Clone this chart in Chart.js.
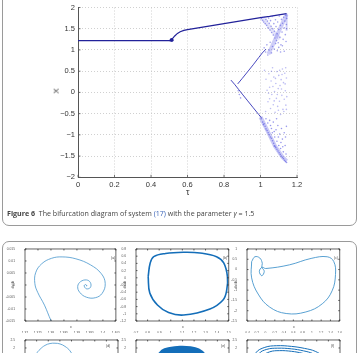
<!DOCTYPE html>
<html><head><meta charset="utf-8">
<script src="https://cdn.jsdelivr.net/npm/chart.js@4/dist/chart.umd.min.js"></script>
<style>
body{margin:0;width:360px;height:353px;overflow:hidden;background:#fff;position:relative;font-family:'Liberation Sans',sans-serif}
canvas{position:absolute}
.box{position:absolute;left:2px;width:355px;border:1px solid #9a9a9a;border-radius:7px;box-sizing:border-box}
.t{position:absolute;white-space:nowrap;color:#333;line-height:1}
.s{position:absolute;white-space:nowrap;color:#444;font-size:3.4px;line-height:1}
.r{transform:rotate(-90deg);transform-origin:center}
</style></head><body>
<div class="box" style="top:-30px;height:256px"></div>
<div class="box" style="top:241px;height:200px"></div>
<canvas id="bif" width="360" height="200" style="left:0;top:0"></canvas>
<span class="t r" style="left:54px;top:87px;font-size:8px">X</span>
<span class="t" style="left:186px;top:188px;font-size:9px">τ</span>
<div class="t" style="left:7px;top:208px;font:7.1px 'Open Sans',sans-serif;color:#444"><b>Figure 6</b>&nbsp; The bifurcation diagram of system <span style="color:#3a64b8">(17)</span> with the parameter <i>γ</i> = 1.5</div>

<canvas id="p1"></canvas><canvas id="p2"></canvas><canvas id="p3"></canvas>
<canvas id="p4"></canvas><canvas id="p5"></canvas><canvas id="p6"></canvas>
<span class="s r" style="left:10px;top:283px">dx/dt</span>
<span class="s r" style="left:122px;top:283px">dx/dt</span>
<span class="s r" style="left:233px;top:283px">dx/dt</span>
<span class="s" style="left:70px;top:326px">x</span>
<span class="s" style="left:182px;top:326px">x</span>
<span class="s" style="left:293px;top:326px">x</span>
<span class="s" style="left:111px;top:257px">(a)</span>
<span class="s" style="left:223px;top:257px">(b)</span>
<span class="s" style="left:334px;top:257px">(c)</span>
<span class="s" style="left:106px;top:345px">(d)</span>
<span class="s" style="left:221px;top:345px">(e)</span>
<span class="s" style="left:331px;top:345px">(f)</span>

<script>
// bifurcation diagram: [tau, X]
const mainBranch = [[0,1.22],[0.1,1.22],[0.2,1.22],[0.3,1.22],[0.4,1.22],[0.505,1.22],[0.512,1.24],[0.52,1.28],[0.53,1.33],[0.545,1.39],[0.56,1.43],[0.58,1.46],[0.6,1.48],[0.65,1.515],[0.7,1.55],[0.8,1.62],[0.9,1.69],[1.0,1.76],[1.05,1.79],[1.1,1.825],[1.143,1.855]]
const blob = [[0.508,1.225],[0.512,1.235],[0.515,1.25],[0.51,1.245],[0.517,1.23],[0.514,1.22]]
const upBranch = [[0.875,0.2],[0.9,0.33],[0.93,0.49],[0.96,0.65],[0.99,0.82],[1.01,0.93],[1.03,1.02]]
const downBranch = [[0.838,0.29],[0.86,0.18],[0.88,0.07],[0.9,-0.04],[0.93,-0.2],[0.96,-0.36],[0.99,-0.52],[1.005,-0.6]]
const bandA = [[1.143,1.84],[1.12,1.62],[1.09,1.34],[1.065,1.1],[1.043,0.9]]
const bandB = [[1.005,1.76],[1.04,1.6],[1.075,1.4],[1.107,1.26]]
const bandLow = [[1.0,-0.58],[1.04,-0.92],[1.08,-1.27],[1.12,-1.52],[1.143,-1.62]]
const bandEdge = [[1.143,1.86],[1.143,1.45]]
const chaosUpper = [[1.005,1.74],[1.012,1.7],[1.018,1.66],[1.022,1.77],[1.026,1.62],[1.03,1.72],[1.034,1.58],[1.038,1.68],[1.041,1.52],[1.045,1.75],[1.048,1.63],[1.052,1.47],[1.055,1.69],[1.058,1.56],[1.061,1.41],[1.064,1.79],[1.067,1.5],[1.07,1.35],[1.073,1.62],[1.076,1.44],[1.079,1.28],[1.082,1.71],[1.085,1.55],[1.088,1.22],[1.091,1.38],[1.094,1.66],[1.097,1.17],[1.1,1.48],[1.103,1.8],[1.106,1.3],[1.109,1.58],[1.112,1.12],[1.115,1.72],[1.118,1.42],[1.121,1.63],[1.124,1.25],[1.127,1.77],[1.13,1.52],[1.133,1.68],[1.136,1.36],[1.139,1.82],[1.142,1.6],[1.144,1.74],[1.143,1.5],[1.02,1.05],[1.028,0.95],[1.035,1.12],[1.04,0.88],[1.047,1.0],[1.053,1.18],[1.06,0.93],[1.066,1.08],[1.075,1.02],[1.083,1.15],[1.092,0.98],[1.1,1.06],[1.11,0.95],[1.12,1.1],[1.13,0.97],[1.14,1.2],[0.878,0.04],[0.884,-0.05],[0.891,-0.13]]
const chaosMid = [[1.022,0.52],[1.03,0.31],[1.036,0.05],[1.041,-0.22],[1.046,0.44],[1.05,0.12],[1.055,-0.38],[1.058,0.27],[1.062,-0.05],[1.066,0.58],[1.07,-0.29],[1.073,0.36],[1.077,0.02],[1.08,-0.47],[1.084,0.21],[1.087,-0.14],[1.09,0.49],[1.094,-0.33],[1.097,0.09],[1.1,0.4],[1.104,-0.21],[1.107,0.16],[1.11,-0.52],[1.113,0.3],[1.117,-0.07],[1.12,0.55],[1.123,-0.4],[1.126,0.23],[1.13,-0.16],[1.133,0.45],[1.136,0.04],[1.139,-0.3],[1.142,0.34],[1.144,-0.1],[1.028,-0.45],[1.044,-0.02],[1.06,0.5],[1.068,0.14],[1.082,0.33],[1.092,-0.05],[1.105,0.52],[1.115,0.08],[1.128,-0.45],[1.135,0.2],[1.142,-0.4],[1.05,-0.15],[1.075,-0.2],[1.098,-0.42],[1.118,0.42],[1.138,0.58]]
const chaosLower = [[1.005,-0.62],[1.012,-0.7],[1.016,-0.76],[1.02,-0.74],[1.025,-0.8],[1.03,-0.86],[1.036,-0.9],[1.042,-0.95],[1.048,-1.0],[1.054,-1.05],[1.06,-1.08],[1.066,-1.14],[1.072,-1.2],[1.076,-1.26],[1.08,-1.27],[1.084,-1.3],[1.09,-1.34],[1.096,-1.38],[1.102,-1.42],[1.108,-1.46],[1.114,-1.5],[1.12,-1.53],[1.126,-1.56],[1.132,-1.6],[1.138,-1.63],[1.143,-1.65],[1.03,-0.62],[1.04,-0.72],[1.05,-0.66],[1.06,-0.85],[1.065,-0.95],[1.07,-0.7],[1.078,-1.05],[1.085,-0.88],[1.09,-1.15],[1.095,-0.78],[1.1,-1.25],[1.105,-0.98],[1.11,-1.32],[1.115,-0.85],[1.12,-1.1],[1.125,-1.4],[1.13,-0.95],[1.135,-1.25],[1.14,-1.45],[1.142,-0.8],[1.137,-1.05],[1.122,-1.28],[1.112,-1.18],[1.098,-1.05],[1.088,-0.62],[1.075,-0.92],[1.055,-0.78]]
const tauTicks = [0, 1.2, 0.2]
const xTicks = [-2, 2, 0.5]

// phase portraits: [x, dx/dt]
const spiralA = [[1.3812,-0.017],[1.38,-0.0148],[1.3775,-0.0084],[1.3749,-0.0031],[1.3738,0.0006],[1.3741,0.0051],[1.3764,0.0088],[1.3802,0.0111],[1.3843,0.0117],[1.3896,0.0109],[1.3952,0.0084],[1.3994,0.0047],[1.4009,0.0006],[1.3997,-0.0035],[1.3971,-0.0053],[1.3937,-0.0051],[1.3911,-0.0031],[1.3903,-0.0006],[1.3914,0.0014],[1.3937,0.0021],[1.3952,0.001],[1.3952,-0.001],[1.3937,-0.0016],[1.3928,-0.0004],[1.3933,0.0002],[1.3939,-0.0004],[1.3935,-0.0002]]
const cycleB = [[0.805,0.031],[0.822,0.403],[0.853,0.586],[0.955,0.675],[1.111,0.708],[1.253,0.689],[1.395,0.586],[1.457,0.411],[1.489,0.031],[1.483,-0.339],[1.451,-0.617],[1.338,-0.867],[1.111,-1.033],[0.981,-0.964],[0.885,-0.756],[0.819,-0.422],[0.805,0.031]]
const cycleC = [[-0.3,0.385],[-0.23,0.622],[-0.123,0.56],[-0.07,0.3],[-0.081,0.125],[-0.028,-0.088],[-0.081,-0.301],[-0.134,-0.088],[-0.075,0.11],[0.004,0.05],[0.515,0.229],[0.983,0.541],[1.33,0.622],[1.473,0.385],[1.509,-0.244],[1.436,-1.034],[1.224,-1.663],[0.87,-2.06],[0.445,-2.136],[0.089,-1.824],[-0.16,-1.19],[-0.3,-0.405],[-0.3,0.385]]
const arcD = [[-1.613,0.589],[-1.497,1.637],[-1.355,1.914],[-1.14,2.161],[-0.925,2.278],[-0.71,2.297],[-0.495,2.253],[-0.28,2.099],[-0.065,1.822],[0.108,1.329],[0.237,0.589]]
const domeE = [[-1.183,0.712],[-1.054,1.329],[-0.839,1.76],[-0.538,1.914],[-0.108,1.988],[0.323,1.958],[0.667,1.822],[0.925,1.514],[1.097,1.021]]
const domeE2 = [[-0.95,0.6],[-0.85,1.2],[-0.68,1.55],[-0.45,1.7],[-0.108,1.75],[0.25,1.72],[0.55,1.6],[0.78,1.3],[0.9,0.8]]
const ringF1 = [[-1.787,0.897],[-1.617,1.699],[-1.234,2.038],[-0.723,2.142],[-0.085,2.099],[0.468,1.976],[0.936,1.791],[1.277,1.452],[1.532,0.897]]
const ringF2 = [[-1.66,0.897],[-1.489,1.637],[-1.149,1.914],[-0.681,1.988],[-0.085,1.945],[0.425,1.822],[0.851,1.637],[1.149,1.329],[1.362,0.836]]
const ringF3 = [[-1.532,0.836],[-1.362,1.452],[-1.021,1.76],[-0.596,1.834],[-0.085,1.791],[0.383,1.668],[0.766,1.483],[1.021,1.206],[1.191,0.774]]

const pts = a => a.map(([x, y]) => ({x, y}))
const minus = v => String(+(+v).toFixed(4)).replace('-', '\u2212')

// MATLAB style ticks pointing into the axes
const inTicks = {
    id: 'inTicks',
    afterDraw(chart, args, o) {
        if (!o || !o.len) return
        const {ctx, chartArea: a, scales: {x, y}} = chart
        ctx.save()
        ctx.strokeStyle = o.color
        ctx.lineWidth = o.width || 1
        ctx.beginPath()
        if (o.box) ctx.rect(a.left, a.top, a.right - a.left, a.bottom - a.top)
        x.ticks.forEach(t => {
            const p = x.getPixelForValue(t.value)
            ctx.moveTo(p, a.bottom); ctx.lineTo(p, a.bottom - o.len)
            if (o.box) { ctx.moveTo(p, a.top); ctx.lineTo(p, a.top + o.len) }
        })
        y.ticks.forEach(t => {
            const p = y.getPixelForValue(t.value)
            ctx.moveTo(a.left, p); ctx.lineTo(a.left + o.len, p)
            if (o.box) { ctx.moveTo(a.right, p); ctx.lineTo(a.right - o.len, p) }
        })
        ctx.stroke()
        ctx.restore()
    }
}
Chart.register(inTicks)

const line = (d, color, w) => ({data: pts(d), showLine: true, pointRadius: 0, borderColor: color, borderWidth: w, tension: 0})
const dots = (d, color, r) => ({data: pts(d), showLine: false, pointRadius: r, borderWidth: 0, backgroundColor: color})

const tickFont = {family: 'Liberation Sans', size: 7.5}

new Chart(document.getElementById('bif'), {
    type: 'scatter',
    data: {
        datasets: [
            line(bandA, 'rgba(80,80,225,0.28)', 4),
            line(bandB, 'rgba(80,80,225,0.16)', 4),
            line(bandLow, 'rgba(80,80,225,0.3)', 4),
            line(bandEdge, 'rgba(80,80,225,0.25)', 2),
            dots(chaosUpper, 'rgba(70,70,220,0.5)', 0.8),
            dots(chaosMid, 'rgba(90,90,225,0.4)', 0.8),
            dots(chaosLower, 'rgba(70,70,220,0.55)', 0.8),
            line(upBranch, 'rgba(40,40,180,0.85)', 1),
            line(downBranch, 'rgba(40,40,180,0.85)', 1),
            line(mainBranch, '#22229a', 1.2),
            dots(blob, '#22229a', 1.2)
        ]
    },
    options: {
        responsive: false, animation: false, events: [],
        layout: {padding: {top: 4.7, right: 63, left: 0, bottom: 0}},
        plugins: {legend: {display: false}, tooltip: {enabled: false}, inTicks: {len: 2.5, color: '#555', width: 0.8}},
        scales: {
            x: {
                type: 'linear', min: tauTicks[0], max: tauTicks[1],
                ticks: {stepSize: tauTicks[2], font: tickFont, color: '#333', padding: 3, maxRotation: 0, autoSkip: false, callback: minus},
                grid: {color: '#c4c4c4', lineWidth: 0.8, drawTicks: false},
                border: {display: true, color: '#555', width: 1, dash: [1, 2]},
                afterFit: s => { s.height = 22.7 }
            },
            y: {
                type: 'linear', min: xTicks[0], max: xTicks[1],
                ticks: {stepSize: xTicks[2], font: tickFont, color: '#333', padding: 3, autoSkip: false, callback: minus},
                grid: {color: '#c4c4c4', lineWidth: 0.8, drawTicks: false},
                border: {display: true, color: '#555', width: 1, dash: [1, 2]},
                afterFit: s => { s.width = 78 }
            }
        }
    }
})

const small = {family: 'Liberation Sans', size: 3.3}

function panel(id, left, top, xr, yr, sets) {
    const c = document.getElementById(id)
    c.width = 93 + 20 + 4
    c.height = 73 + 3 + 12
    c.style.left = (left - 20) + 'px'
    c.style.top = (top - 3) + 'px'
    new Chart(c, {
        type: 'scatter',
        data: {datasets: sets},
        options: {
            responsive: false, animation: false, events: [],
            layout: {padding: {top: 3, right: 4, left: 0, bottom: 0}},
            plugins: {legend: {display: false}, tooltip: {enabled: false}, inTicks: {len: 1.5, box: true, color: '#222', width: 0.7}},
            scales: {
                x: {
                    type: 'linear', min: xr[0], max: xr[1],
                    ticks: {stepSize: xr[2], font: small, color: '#555', padding: 2, maxRotation: 0, autoSkip: false, callback: v => String(+(+v).toFixed(4))},
                    grid: {display: false}, border: {display: false},
                    afterFit: s => { s.height = 12 }
                },
                y: {
                    type: 'linear', min: yr[0], max: yr[1],
                    ticks: {stepSize: yr[2], font: small, color: '#555', padding: 2, autoSkip: false, callback: v => String(+(+v).toFixed(4))},
                    grid: {display: false}, border: {display: false},
                    afterFit: s => { s.width = 20 }
                }
            }
        }
    })
}

const blue = 'rgb(70,150,205)'
const deep = 'rgb(20,110,185)'
const smooth = (d, color, w) => Object.assign(line(d, color, w), {tension: 0.4})

panel('p1', 25, 248, [1.37, 1.405, 0.005], [-0.015, 0.015, 0.005], [smooth(spiralA, blue, 0.8)])
panel('p2', 136, 248, [0.7, 1.5, 0.1], [-1.2, 0.8, 0.2], [smooth(cycleB, deep, 1.6)])
panel('p3', 247, 248, [-0.4, 1.6, 0.2], [-2.5, 1, 0.5], [smooth(cycleC, blue, 0.9)])
panel('p4', 25, 339, [-2, 2, 0.5], [-2, 2.5, 0.5], [smooth(arcD, blue, 0.8)])
panel('p5', 136, 339, [-2, 2, 0.5], [-2, 2.5, 0.5], [smooth(domeE, deep, 5), smooth(domeE2, deep, 8)])
panel('p6', 247, 339, [-2, 2, 0.5], [-2, 2.5, 0.5], [smooth(ringF1, deep, 1), smooth(ringF2, deep, 1), smooth(ringF3, deep, 1)])
</script>
</body></html>
